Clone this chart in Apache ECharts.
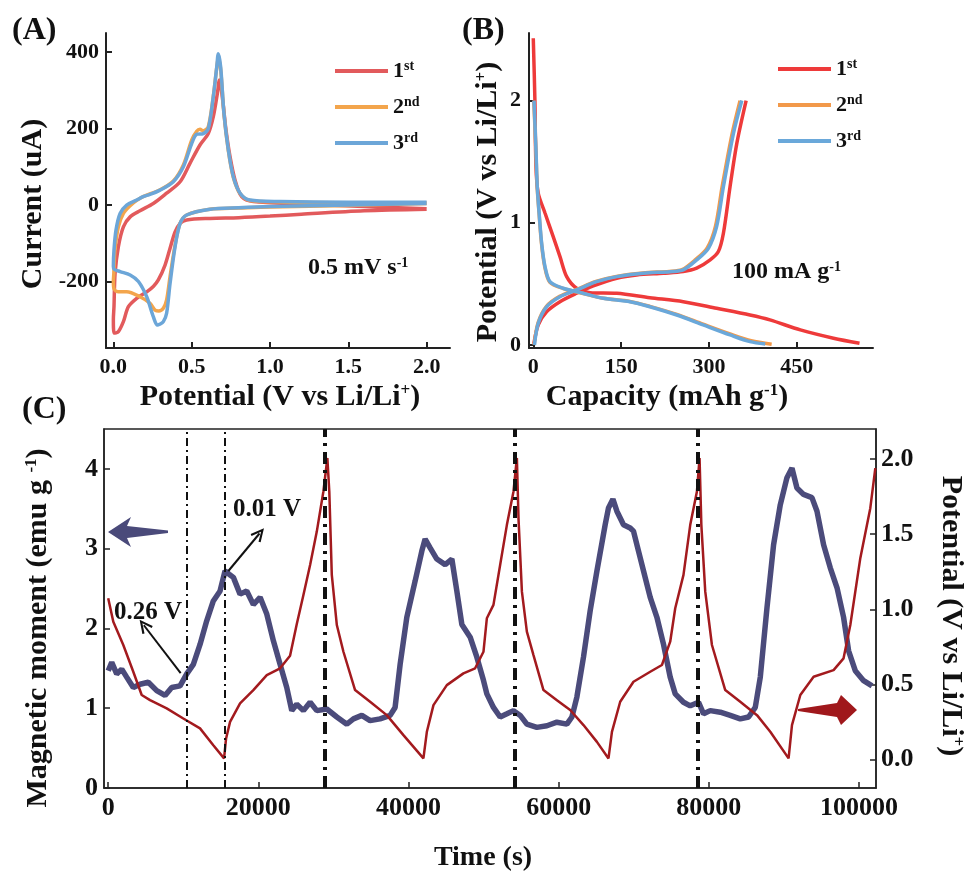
<!DOCTYPE html>
<html><head><meta charset="utf-8">
<script src="https://cdn.jsdelivr.net/npm/echarts@6/dist/echarts.min.js"></script>
<style>html,body{margin:0;padding:0;background:#fff}#c{width:966px;height:873px}</style>
</head><body><div id="c"></div>
<script>
// ---------- Panel A: CV cycles [potential V, current uA] ----------
const cv1 = [[2.0,-11],[1.6,-15],[1.2,-24],[1.0,-29],[0.8,-33],[0.617,-35],[0.468,-39],[0.426,-48],[0.394,-70],[0.362,-113],[0.33,-157],[0.287,-196],[0.255,-213],[0.213,-227],[0.149,-244],[0.096,-266],[0.064,-305],[0.032,-331],[0.005,-335],
  [0.0,-300],[0.004,-266],[0.011,-179],[0.032,-109],[0.064,-57],[0.107,-31],[0.17,-15],[0.255,4],[0.34,31],[0.426,61],[0.489,109],[0.553,157],[0.606,187],[0.638,231],[0.664,292],[0.677,327],[0.698,274],[0.719,196],[0.745,126],[0.777,65],[0.819,22],[0.894,9],[1.2,3],[1.6,-4],[2.0,-10]];
const cv2 = [[2.0,4],[1.5,-1],[1.0,-5],[0.8,-8],[0.617,-11],[0.468,-26],[0.426,-48],[0.394,-105],[0.362,-187],[0.34,-248],[0.319,-270],[0.29,-277],[0.27,-276],[0.234,-257],[0.17,-240],[0.085,-227],[0.032,-227],[0.005,-220],
  [0.0,-200],[0.003,-179],[0.01,-118],[0.032,-57],[0.064,-22],[0.107,-2],[0.149,12],[0.19,22],[0.298,40],[0.383,63],[0.447,105],[0.5,170],[0.532,193],[0.553,198],[0.574,194],[0.606,205],[0.638,285],[0.66,360],[0.67,385],[0.685,355],[0.706,238],[0.734,142],[0.766,72],[0.809,30],[0.872,12],[1.064,8],[1.5,6],[2.0,5]];
const cv3 = [[2.0,4],[1.5,0],[1.0,-4],[0.8,-7],[0.617,-11],[0.468,-26],[0.426,-48],[0.394,-109],[0.362,-205],[0.34,-283],[0.319,-305],[0.295,-312],[0.281,-314],[0.255,-292],[0.213,-240],[0.16,-200],[0.107,-183],[0.043,-174],[0.005,-168],
  [0.0,-160],[0.004,-118],[0.017,-65],[0.043,-22],[0.085,0],[0.149,13],[0.19,22],[0.234,28],[0.298,39],[0.383,61],[0.447,100],[0.5,161],[0.532,185],[0.574,187],[0.606,200],[0.638,283],[0.66,361],[0.67,396],[0.685,361],[0.706,240],[0.734,144],[0.766,74],[0.809,31],[0.872,13],[1.064,9],[1.5,7],[2.0,7]];
const aTickX = [0, 0.5, 1.0, 1.5, 2.0];
const aTickY = [-200, 0, 200, 400];

// ---------- Panel B: galvanostatic curves [capacity mAh/g, potential V] ----------
const bDis1 = [[0,2.51],[2.8,2.0],[4.6,1.46],[8.5,1.24],[20,1.08],[34,0.886],[45.6,0.723],[57,0.559],[74,0.464],[97,0.428],[142.5,0.423],[199,0.387],[256,0.354],[313,0.30],[370,0.245],[404,0.205],[456,0.123],[512.5,0.055],[557,0.014]];
const bChg1 = [[1,0.01],[8.5,0.164],[23,0.273],[45.6,0.354],[74,0.423],[102.5,0.483],[142.5,0.546],[176.6,0.573],[222,0.587],[256,0.60],[279,0.628],[302,0.696],[316,0.764],[324.6,0.914],[336,1.296],[347.5,1.65],[363.4,2.0]];
const bDis2 = [[0.8,2.0],[4.4,1.6],[6.6,1.295],[9.8,1.08],[14,0.832],[19.5,0.641],[28,0.515],[51,0.462],[85,0.421],[119.6,0.382],[165,0.356],[199,0.316],[245,0.25],[290,0.17],[336,0.09],[372,0.034],[407,0.005]];
const bChg2 = [[1.5,0.0],[8,0.18],[22.5,0.316],[45,0.398],[73,0.452],[107,0.52],[142,0.561],[187,0.589],[232,0.602],[254,0.616],[277,0.698],[297,0.795],[311,0.97],[322.6,1.3],[339.5,1.73],[353,2.0]];
const bDis3 = [[1.2,2.0],[4.6,1.6],[6.8,1.295],[10,1.08],[14.3,0.832],[20,0.641],[28.5,0.518],[51,0.464],[85,0.423],[119.6,0.382],[165,0.354],[199,0.313],[245,0.245],[290,0.164],[336,0.082],[370,0.027],[396,0.008]];
const bChg3 = [[2,0.0],[8.5,0.177],[23,0.313],[45.6,0.395],[74,0.45],[108,0.518],[142.5,0.559],[188,0.587],[233.5,0.60],[256,0.614],[279,0.696],[299,0.791],[313,0.968],[324.6,1.295],[341.7,1.73],[356,2.0]];
const bTickX = [0, 150, 300, 450];
const bTickY = [0, 1, 2];

// ---------- Panel C: operando magnetometry [time s, value] ----------
const moment = [[0,1.47],[470,1.575],[1130,1.43],[1800,1.49],[2460,1.39],[3340,1.26],[4240,1.30],[5340,1.325],[6460,1.22],[7570,1.16],[8460,1.26],[9570,1.28],[10460,1.43],[11340,1.55],[12230,1.80],[13120,2.095],[14000,2.345],[14900,2.47],[15560,2.72],[16100,2.68],[16670,2.64],[17560,2.43],[18450,2.47],[19330,2.30],[20230,2.39],[21120,2.18],[22000,1.845],[22890,1.55],[23780,1.26],[24450,0.97],[25110,1.05],[26000,0.97],[26890,1.075],[27780,0.97],[29110,0.99],[30450,0.89],[31780,0.80],[32660,0.866],[33780,0.91],[34880,0.845],[36210,0.866],[37550,0.91],[38210,1.01],[38880,1.55],[39770,2.14],[40880,2.595],[41770,2.97],[42210,3.12],[42880,3.01],[43770,2.87],[44880,2.80],[45770,2.87],[46430,2.47],[47100,2.05],[48210,1.89],[49100,1.64],[49980,1.35],[50430,1.18],[51310,1.01],[52200,0.89],[53100,0.93],[53980,0.97],[54870,0.91],[55760,0.80],[57090,0.76],[58430,0.78],[59760,0.825],[61090,0.80],[61760,0.89],[62420,1.14],[63300,1.64],[64190,2.22],[65090,2.72],[66190,3.30],[66630,3.51],[67220,3.62],[67750,3.47],[68630,3.30],[69520,3.26],[69960,3.22],[70630,2.97],[71300,2.72],[72190,2.39],[73080,2.14],[73960,1.80],[74850,1.39],[75520,1.18],[76620,1.075],[77520,1.03],[78630,1.075],[79290,0.93],[80180,0.97],[81520,0.95],[82850,0.91],[84180,0.866],[85290,0.89],[86180,1.01],[86850,1.39],[87740,2.26],[88620,3.05],[89510,3.55],[90400,3.89],[91070,4.01],[91730,3.76],[92620,3.68],[93730,3.64],[94400,3.47],[95280,3.05],[96170,2.76],[97070,2.51],[97940,2.14],[98610,1.72],[99500,1.47],[100610,1.345],[101730,1.28]];
const potential = [[0,1.073],[680,0.917],[2010,0.762],[3340,0.584],[4460,0.429],[5570,0.395],[7790,0.34],[10000,0.273],[12230,0.207],[14000,0.095],[15430,0.007],[15700,0.14],[16230,0.25],[17560,0.373],[19330,0.462],[21120,0.562],[22890,0.607],[24220,0.69],[25110,0.9],[26000,1.095],[26890,1.295],[27780,1.517],[28660,1.784],[29190,2.007],[29450,1.78],[29780,1.229],[30450,0.895],[31330,0.717],[32880,0.462],[34880,0.384],[37100,0.295],[39320,0.162],[41980,0.007],[42440,0.184],[43320,0.362],[45100,0.495],[47310,0.573],[48870,0.607],[49980,0.717],[50430,0.94],[51310,1.029],[52200,1.295],[53100,1.562],[53980,1.784],[54430,2.007],[54650,1.6],[55100,1.117],[55760,0.851],[56640,0.695],[57970,0.462],[59760,0.395],[61530,0.329],[63300,0.229],[65090,0.117],[66630,0.007],[67090,0.184],[68190,0.384],[69960,0.517],[72190,0.584],[73750,0.629],[74850,0.784],[75520,1.007],[76620,1.229],[77520,1.562],[78410,1.784],[78760,2.007],[79000,1.56],[79520,1.117],[80410,0.762],[82180,0.462],[84180,0.384],[86410,0.295],[88180,0.184],[90620,0.007],[91070,0.229],[92180,0.429],[93950,0.551],[96610,0.595],[97940,0.673],[98840,0.895],[100170,1.34],[101500,1.673],[102170,1.94]];
const cTickX = [0, 20000, 40000, 60000, 80000, 100000];
const cTickYL = [0, 1, 2, 3, 4];
const cTickYR = [0, 0.5, 1.0, 1.5, 2.0];
const cThinMarks = [10500, 15570];
const cThickMarks = [28890, 54200, 78490];
const arrow026 = [[9650, 1.44], [4750, 2.04]];
const arrow001 = [[16000, 2.72], [20150, 3.19]];

// ---------- styles ----------
const FONT = '"Liberation Serif","Times New Roman",serif';
const INK = '#111';
const txt = (size) => ({ fontFamily: FONT, fontWeight: 'bold', fontSize: size, color: INK });

function xAx(grid, min, max, ticks, fmt, size, margin, lw) {
  return { type: 'value', gridIndex: grid, min, max, position: 'bottom',
    axisLine: { show: true, onZero: false, lineStyle: { color: '#222', width: lw } },
    axisTick: { show: true, inside: true, length: 6, customValues: ticks, lineStyle: { color: '#222', width: lw } },
    axisLabel: Object.assign({ customValues: ticks, formatter: fmt, margin }, txt(size)),
    splitLine: { show: false } };
}
function yAx(grid, min, max, ticks, fmt, size, margin, lw, pos) {
  return { type: 'value', gridIndex: grid, min, max, position: pos || 'left',
    axisLine: { show: true, onZero: false, lineStyle: { color: '#222', width: lw } },
    axisTick: { show: true, inside: true, length: 6, customValues: ticks, lineStyle: { color: '#222', width: lw } },
    axisLabel: Object.assign({ customValues: ticks, formatter: fmt, margin }, txt(size)),
    splitLine: { show: false } };
}
const f1 = v => v.toFixed(1), f0 = v => String(Math.round(v));

const legendNames = { A1: '{n|1}{s|st}', A2: '{n|2}{s|nd}', A3: '{n|3}{s|rd}', B1: '{n|1}{s|st}', B2: '{n|2}{s|nd}', B3: '{n|3}{s|rd}' };
const legRich = { n: Object.assign({ lineHeight: 24 }, txt(22)), s: Object.assign({ lineHeight: 14, verticalAlign: 'top' }, txt(14)) };
function legend(left, top, names) {
  return { orient: 'vertical', left, top, icon: 'rect', itemWidth: 53, itemHeight: 4, itemGap: 13,
    data: names, selectedMode: false, formatter: n => legendNames[n], textStyle: { rich: legRich } };
}

const supRich = (size) => ({ s: { fontFamily: FONT, fontWeight: 'bold', fontSize: Math.round(size * 0.58), lineHeight: Math.round(size * 0.58), verticalAlign: 'top', fill: INK } });
function gText(text, x, y, size, rot, align) {
  return { type: 'text', x, y, rotation: rot || 0, z: 100,
    style: { text, fill: INK, fontFamily: FONT, fontWeight: 'bold', fontSize: size, align: align || 'center', verticalAlign: 'middle', lineHeight: size, rich: supRich(size) } };
}

const cvColors = ['#E25A5C', '#F3A54C', '#6CA6D8'];
const gcColors = ['#EE3A3A', '#F2994A', '#6AA8DA'];
const lineS = (name, xi, data, color, w, smooth) => ({ type: 'line', name, xAxisIndex: xi, yAxisIndex: xi, data, showSymbol: false, smooth, lineStyle: { color, width: w }, itemStyle: { color }, emphasis: { disabled: true } });

const chevron = 'path://M0,12 L6,0 L12,12 L10.2,12.9 L6,4.2 L1.8,12.9 Z';

const option = {
  animation: false,
  backgroundColor: '#fff',
  grid: [
    { left: 106, top: 33, width: 344, height: 315, outerBoundsMode: 'none' },
    { left: 529, top: 33, width: 344, height: 315, outerBoundsMode: 'none' },
    { left: 104, top: 429, width: 772, height: 359, show: true, borderColor: '#222', borderWidth: 1.5, outerBoundsMode: 'none' }
  ],
  xAxis: [
    xAx(0, -0.047, 2.149, aTickX, f1, 22, 8, 2),
    xAx(1, -7.3, 580, bTickX, f0, 22, 8, 2),
    xAx(2, -560, 102260, cTickX, f0, 26, 7, 1.5),
    Object.assign(xAx(2, -560, 102260, cTickX, f0, 26, 7, 1.5), { show: false })
  ],
  yAxis: [
    yAx(0, -374, 450, aTickY, f0, 22, 7, 2),
    yAx(1, -0.025, 2.553, bTickY, f0, 22, 8, 2),
    yAx(2, 0, 4.5, cTickYL, f0, 26, 6, 1.5),
    yAx(2, -0.19, 2.2, cTickYR, f1, 26, 5, 1.5, 'right')
  ],
  legend: [legend(330, 54, ['A1', 'A2', 'A3']), legend(773, 52, ['B1', 'B2', 'B3'])],
  series: [
    lineS('A1', 0, cv1, cvColors[0], 3.5, 0.3),
    lineS('A2', 0, cv2, cvColors[1], 3.5, 0.3),
    lineS('A3', 0, cv3, cvColors[2], 3.5, 0.3),
    lineS('B1', 1, bDis1, gcColors[0], 3.5, 0.3),
    lineS('B1', 1, bChg1, gcColors[0], 3.5, 0.3),
    lineS('B2', 1, bDis2, gcColors[1], 3.5, 0.3),
    lineS('B2', 1, bChg2, gcColors[1], 3.5, 0.3),
    lineS('B3', 1, bDis3, gcColors[2], 3.5, 0.3),
    lineS('B3', 1, bChg3, gcColors[2], 3.5, 0.3),
    Object.assign(lineS('moment', 2, moment, '#4B4B7B', 5.5, false), {
      markLine: { silent: true, symbol: 'none', animation: false, label: { show: false },
        data: cThinMarks.map(t => ({ xAxis: t, lineStyle: { color: '#111', width: 2, type: [8, 4, 2, 4] } }))
          .concat(cThickMarks.map(t => ({ xAxis: t, lineStyle: { color: '#111', width: 4, type: [12, 6, 3, 6] } })))
          .concat([arrow026, arrow001].map(a => [{ coord: a[0], symbol: 'none' }, { coord: a[1], symbol: chevron, symbolSize: [13, 14], lineStyle: { color: '#111', width: 2, type: 'solid' } }]))
      } }),
    { type: 'line', name: 'potential', xAxisIndex: 3, yAxisIndex: 3, data: potential, showSymbol: false, smooth: false, lineStyle: { color: '#A31A1E', width: 2.5 }, itemStyle: { color: '#A31A1E' } }
  ],
  graphic: [
    gText('(A)', 12, 31, 32, 0, 'left'),
    gText('(B)', 462, 31, 32, 0, 'left'),
    gText('(C)', 22, 410, 32, 0, 'left'),
    gText('Current (uA)', 33, 204, 30, Math.PI / 2),
    gText('Potential (V vs Li/Li{s|+})', 280, 397, 30, 0),
    gText('Potential (V vs Li/Li{s|+})', 488, 202, 30, Math.PI / 2),
    gText('Capacity (mAh g{s|-1})', 667, 397, 30, 0),
    gText('0.5 mV s{s|-1}', 308, 268, 24, 0, 'left'),
    gText('100 mA g{s|-1}', 732, 272, 24, 0, 'left'),
    gText('Magnetic moment (emu g {s|-1})', 38, 628, 30, Math.PI / 2),
    gText('Potential (V vs Li/Li{s|+})', 951, 616, 30, -Math.PI / 2),
    gText('Time (s)', 483, 858, 28, 0),
    gText('0.26 V', 114, 613, 25, 0, 'left'),
    gText('0.01 V', 233, 510, 25, 0, 'left'),
    { type: 'polygon', z: 100, shape: { points: [[108,532],[131,517],[127,526],[168,530.5],[168,533],[127,538],[131,547]] }, style: { fill: '#4A4A7A' } },
    { type: 'polygon', z: 100, shape: { points: [[798,709],[837,703],[841,695],[857,710],[841,725],[837,717],[798,711]] }, style: { fill: '#A0181C' } }
  ]
};

const chart = echarts.init(document.getElementById('c'), null, { renderer: 'canvas' });
chart.setOption(option);
</script></body></html>
